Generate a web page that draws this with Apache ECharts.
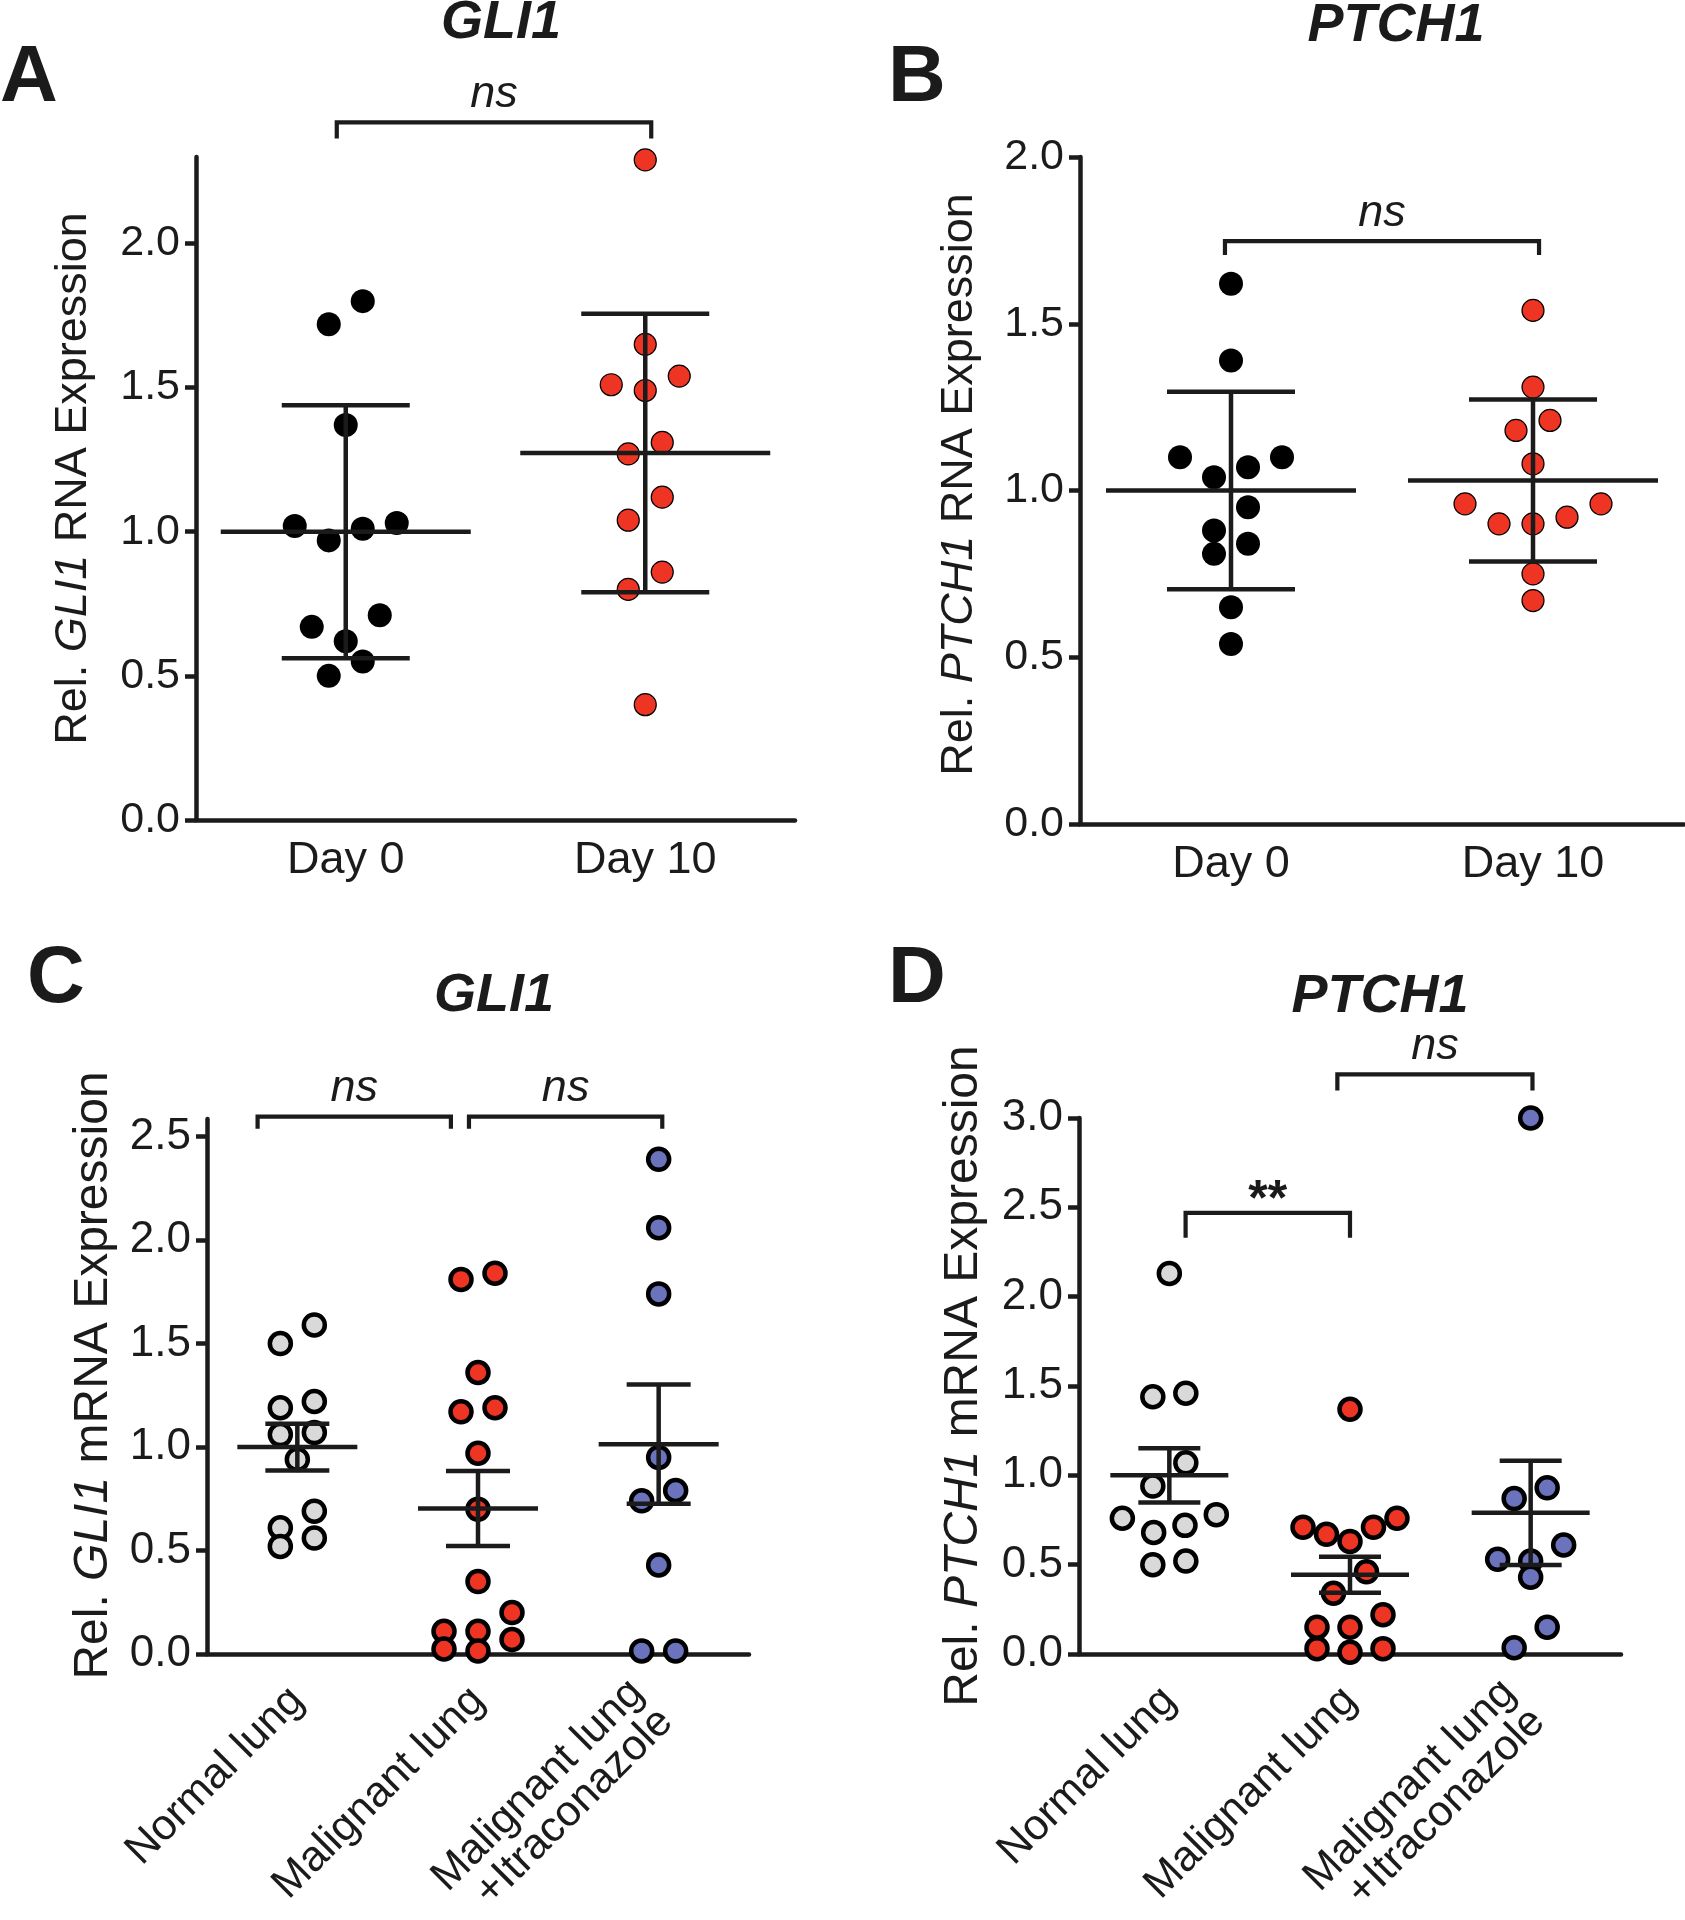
<!DOCTYPE html>
<html>
<head>
<meta charset="utf-8">
<script src="https://cdn.jsdelivr.net/npm/echarts@6/dist/echarts.min.js"></script>
<style>
  html, body { margin: 0; padding: 0; background: #fff; }
  #chart { width: 1685px; height: 1920px; }
</style>
</head>
<body>
<div id="chart"></div>
<script>
// categories
const dayCats = ['Day 0', 'Day 10']
const lungCats = ['Normal lung', 'Malignant lung', 'Malignant lung\n+Itraconazole']

// A: GLI1, day 0 vs day 10
const gliDay0 = [1.80, 1.72, 1.37, 1.02, 1.01, 1.03, 0.97, 0.71, 0.67, 0.62, 0.55, 0.50]
const gliDay10 = [2.29, 1.65, 1.54, 1.51, 1.49, 1.31, 1.27, 1.12, 1.04, 0.86, 0.80, 0.40]
const gliDayMean = [1.0, 1.273]
const gliDaySd = [0.439, 0.483]

// B: PTCH1, day 0 vs day 10
const ptchDay0 = [1.62, 1.39, 1.10, 1.10, 1.07, 1.04, 0.95, 0.88, 0.84, 0.81, 0.65, 0.54]
const ptchDay10 = [1.54, 1.31, 1.21, 1.18, 1.08, 0.96, 0.96, 0.92, 0.90, 0.90, 0.75, 0.67]
const ptchDayMean = [1.0, 1.03]
const ptchDaySd = [0.296, 0.243]

// C: GLI1 in lung tissue
const gliNormal = [1.59, 1.50, 1.22, 1.19, 1.07, 1.06, 0.94, 0.69, 0.61, 0.56, 0.52]
const gliMalig = [1.84, 1.81, 1.36, 1.19, 1.17, 0.97, 0.70, 0.35, 0.20, 0.11, 0.11, 0.07, 0.024, 0.015]
const gliItra = [2.39, 2.06, 1.74, 0.95, 0.79, 0.74, 0.43, 0.015, 0.015]
const gliLungMean = [1.0, 0.703, 1.014]
const gliLungSem = [0.113, 0.181, 0.288]

// D: PTCH1 in lung tissue
const ptchNormal = [2.13, 1.46, 1.44, 1.07, 0.94, 0.78, 0.76, 0.72, 0.68, 0.52, 0.50]
const ptchMalig = [1.37, 0.76, 0.71, 0.71, 0.67, 0.63, 0.46, 0.34, 0.22, 0.15, 0.15, 0.03, 0.03, 0.01]
const ptchItra = [3.00, 0.93, 0.87, 0.61, 0.53, 0.52, 0.43, 0.15, 0.035]
const ptchLungMean = [1.0, 0.444, 0.79]
const ptchLungSem = [0.152, 0.101, 0.292]

// y ticks
const ticksA = [0, 0.5, 1.0, 1.5, 2.0]
const ticksB = [0, 0.5, 1.0, 1.5, 2.0]
const ticksC = [0, 0.5, 1.0, 1.5, 2.0, 2.5]
const ticksD = [0, 0.5, 1.0, 1.5, 2.0, 2.5, 3.0]

// significance brackets: [from x, to x, y level, text]
const bracketsA = [[0.47, 1.52, 2.42, 'ns']]
const bracketsB = [[0.48, 1.52, 1.748, 'ns']]
const bracketsC = [[0.28, 1.35, 2.596, 'ns'], [1.45, 2.52, 2.596, 'ns']]
const bracketsD = [[0.59, 1.50, 2.469, '**'], [1.43, 2.51, 3.244, 'ns']]

const FONT = "'Liberation Sans', Arial, Helvetica, sans-serif"
const INK = '#1b1b1b'
const RED = '#ee3524'
const BLUE = '#6a73bb'
const GREY = '#d9d9d9'

const panels = [
  {
    grid: { left: 196, top: 157, width: 599, height: 663 }, yMax: 2.3, ticks: ticksA, cats: dayCats,
    name: 'Rel. {i|GLI1} RNA Expression', nameGap: 100, namePad: 20, nameFont: 45, tickFont: 43, catFont: 45, rotate: 0, catMargin: 20,
    groups: [{ v: gliDay0, fill: '#000', border: 0, size: 24 }, { v: gliDay10, fill: RED, border: 1.2, size: 22 }],
    mean: gliDayMean, err: gliDaySd, meanHalf: 125, capHalf: 64, step: 17,
    brackets: bracketsA, drop: [16]
  },
  {
    grid: { left: 1080, top: 157, width: 604, height: 667 }, yMax: 2.0, ticks: ticksB, cats: dayCats,
    name: 'Rel. {i|PTCH1} RNA Expression', nameGap: 98, namePad: 12, nameFont: 45, tickFont: 43, catFont: 45, rotate: 0, catMargin: 20,
    groups: [{ v: ptchDay0, fill: '#000', border: 0, size: 24 }, { v: ptchDay10, fill: RED, border: 1.2, size: 22 }],
    mean: ptchDayMean, err: ptchDaySd, meanHalf: 125, capHalf: 64, step: 17,
    brackets: bracketsB, drop: [14]
  },
  {
    grid: { left: 207, top: 1119, width: 542, height: 535 }, yMax: 2.585, ticks: ticksC, cats: lungCats,
    name: 'Rel. {i|GLI1} mRNA Expression', nameGap: 89, namePad: 22, nameFont: 48, tickFont: 44, catFont: 43, rotate: 45, catMargin: 40,
    groups: [{ v: gliNormal, fill: GREY, border: 4.5, size: 21 }, { v: gliMalig, fill: RED, border: 4.5, size: 21 }, { v: gliItra, fill: BLUE, border: 4.5, size: 21 }],
    mean: gliLungMean, err: gliLungSem, meanHalf: 60, capHalf: 32, step: 17,
    brackets: bracketsC, drop: [12, 12]
  },
  {
    grid: { left: 1079, top: 1118, width: 542, height: 536 }, yMax: 3.0, ticks: ticksD, cats: lungCats,
    name: 'Rel. {i|PTCH1} mRNA Expression', nameGap: 91, namePad: 20, nameFont: 48, tickFont: 44, catFont: 43, rotate: 45, catMargin: 40,
    groups: [{ v: ptchNormal, fill: GREY, border: 4.5, size: 21 }, { v: ptchMalig, fill: RED, border: 4.5, size: 21 }, { v: ptchItra, fill: BLUE, border: 4.5, size: 21 }],
    mean: ptchLungMean, err: ptchLungSem, meanHalf: 59, capHalf: 31, step: 16.5,
    brackets: bracketsD, drop: [25, 16]
  }
]

// prism-like column scatter: points close in value share a row, spread symmetrically
function swarm(values, center, p) {
  const pxPerY = p.grid.height / p.yMax
  const xPerPx = p.cats.length / p.grid.width
  const maxHalf = 0.26 * p.grid.width / p.cats.length
  const order = values.map((v, i) => i).sort((a, b) => values[b] - values[a])
  const rows = []
  let cur = null
  order.forEach(i => {
    if (cur && (values[cur[0]] - values[i]) * pxPerY <= 26) cur.push(i)
    else { cur = [i]; rows.push(cur) }
  })
  const pts = []
  rows.forEach(row => {
    const n = row.length
    let step = p.step
    if (n > 1 && (n - 1) * step > Math.max(maxHalf, 2 * p.step)) step = Math.max(maxHalf, 2 * p.step) / (n - 1)
    const slots = []
    for (let k = n - 1; k >= -(n - 1); k -= 2) slots.push(k)
    const seq = []
    let lo = 0, hi = slots.length - 1, t = 0
    while (lo <= hi) { seq.push(t % 2 === 0 ? slots[lo++] : slots[hi--]); t++ }
    row.forEach((idx, j) => pts.push([center + seq[j] * step * xPerPx, values[idx]]))
  })
  return pts
}

const grids = [], xAxes = [], yAxes = [], series = []
panels.forEach((p, k) => {
  // fixed plot boxes; labels are allowed to run past the page edge
  grids.push(Object.assign({ containLabel: false, outerBoundsMode: 'none' }, p.grid))
  // two-line labels keep their first line level with the others
  const catData = p.cats.map(c => c.indexOf('\n') >= 0
    ? { value: c, textStyle: { padding: [19, 10, 0, 0] } }
    : c)
  xAxes.push({
    gridIndex: k, type: 'category', data: catData, boundaryGap: true,
    axisLine: { lineStyle: { color: INK, width: 4.5 } },
    axisTick: { alignWithLabel: true, length: 11, lineStyle: { color: INK, width: 4.5 } },
    axisLabel: { interval: 0, rotate: p.rotate, fontSize: p.catFont, fontFamily: FONT, color: INK, margin: p.catMargin, lineHeight: 41 },
    splitLine: { show: false }
  })
  xAxes.push({ gridIndex: k, type: 'value', min: 0, max: p.cats.length, show: false })
  yAxes.push({
    gridIndex: k, type: 'value', min: 0, max: p.yMax,
    axisLine: { show: true, lineStyle: { color: INK, width: 4.5 } },
    axisTick: { show: true, length: 11, lineStyle: { color: INK, width: 4.5 }, customValues: p.ticks },
    axisLabel: { customValues: p.ticks, formatter: v => Number(v).toFixed(1), fontSize: p.tickFont, fontFamily: FONT, color: INK, margin: 16 },
    splitLine: { show: false },
    name: p.name, nameLocation: 'middle', nameGap: p.nameGap,
    nameTextStyle: {
      fontSize: p.nameFont, fontFamily: FONT, color: INK, padding: [0, 0, 0, p.namePad],
      rich: { i: { fontStyle: 'italic', fontSize: p.nameFont, fontFamily: FONT, color: INK } }
    }
  })

  // data points
  p.groups.forEach((g, gi) => {
    series.push({
      type: 'scatter', xAxisIndex: 2 * k + 1, yAxisIndex: k, clip: false, silent: true, z: 2,
      symbol: 'circle', symbolSize: g.size,
      itemStyle: { color: g.fill, borderColor: '#000', borderWidth: g.border, opacity: 1 },
      data: swarm(g.v, gi + 0.5, p)
    })
  })

  // mean with error bars
  series.push({
    type: 'custom', xAxisIndex: 2 * k + 1, yAxisIndex: k, clip: false, silent: true, z: 4,
    encode: { x: 0, y: 1 },
    data: p.mean.map((m, i) => [i + 0.5, m, p.err[i]]),
    renderItem: (params, api) => {
      const x = api.value(0), m = api.value(1), e = api.value(2)
      const c = api.coord([x, m]), h = api.coord([x, m + e]), l = api.coord([x, m - e])
      const st = { stroke: INK, lineWidth: 4.5 }
      return {
        type: 'group', children: [
          { type: 'line', shape: { x1: c[0] - p.meanHalf, y1: c[1], x2: c[0] + p.meanHalf, y2: c[1] }, style: st },
          { type: 'line', shape: { x1: h[0], y1: h[1], x2: l[0], y2: l[1] }, style: st },
          { type: 'line', shape: { x1: h[0] - p.capHalf, y1: h[1], x2: h[0] + p.capHalf, y2: h[1] }, style: st },
          { type: 'line', shape: { x1: l[0] - p.capHalf, y1: l[1], x2: l[0] + p.capHalf, y2: l[1] }, style: st }
        ]
      }
    }
  })

  // significance brackets
  series.push({
    type: 'custom', xAxisIndex: 2 * k + 1, yAxisIndex: k, clip: false, silent: true, z: 4,
    encode: { x: 0, y: 2 },
    data: p.brackets.map(b => [b[0], b[1], b[2]]),
    renderItem: (params, api) => {
      const b = p.brackets[params.dataIndex]
      const a = api.coord([api.value(0), api.value(2)])
      const z = api.coord([api.value(1), api.value(2)])
      const drop = p.drop[params.dataIndex]
      const star = b[3] === '**'
      return {
        type: 'group', children: [
          {
            type: 'polyline',
            shape: { points: [[a[0], a[1] + drop], [a[0], a[1]], [z[0], z[1]], [z[0], z[1] + drop]] },
            style: { stroke: INK, lineWidth: 4.2, fill: null, lineJoin: 'miter' }
          },
          {
            type: 'text',
            style: {
              text: b[3], x: (a[0] + z[0]) / 2, y: a[1] - (star ? 12 : 28),
              font: (star ? 'bold 50px ' : 'italic 45px ') + FONT, fill: INK,
              textAlign: 'center', textVerticalAlign: 'middle', align: 'center', verticalAlign: 'middle'
            }
          }
        ]
      }
    }
  })
})

// panel letters and gene titles
const labels = [
  ['A', 0, 79, 'bold 80px', 'left'], ['B', 888, 79, 'bold 80px', 'left'],
  ['C', 27, 980, 'bold 80px', 'left'], ['D', 888, 980, 'bold 80px', 'left'],
  ['GLI1', 501, 23, 'italic bold 54px', 'center'], ['PTCH1', 1396, 26, 'italic bold 54px', 'center'],
  ['GLI1', 494, 996, 'italic bold 54px', 'center'], ['PTCH1', 1380, 997, 'italic bold 54px', 'center']
]
const graphic = labels.map(l => ({
  type: 'text', x: l[1], y: l[2], silent: true,
  style: {
    text: l[0], font: l[3] + ' ' + FONT, fill: INK,
    textAlign: l[4], textVerticalAlign: 'middle', align: l[4], verticalAlign: 'middle'
  }
}))

const chart = echarts.init(document.getElementById('chart'), null, { renderer: 'canvas' })
chart.setOption({
  animation: false,
  backgroundColor: '#fff',
  textStyle: { fontFamily: FONT, color: INK },
  grid: grids,
  xAxis: xAxes,
  yAxis: yAxes,
  series: series,
  graphic: graphic
})
</script>
</body>
</html>
